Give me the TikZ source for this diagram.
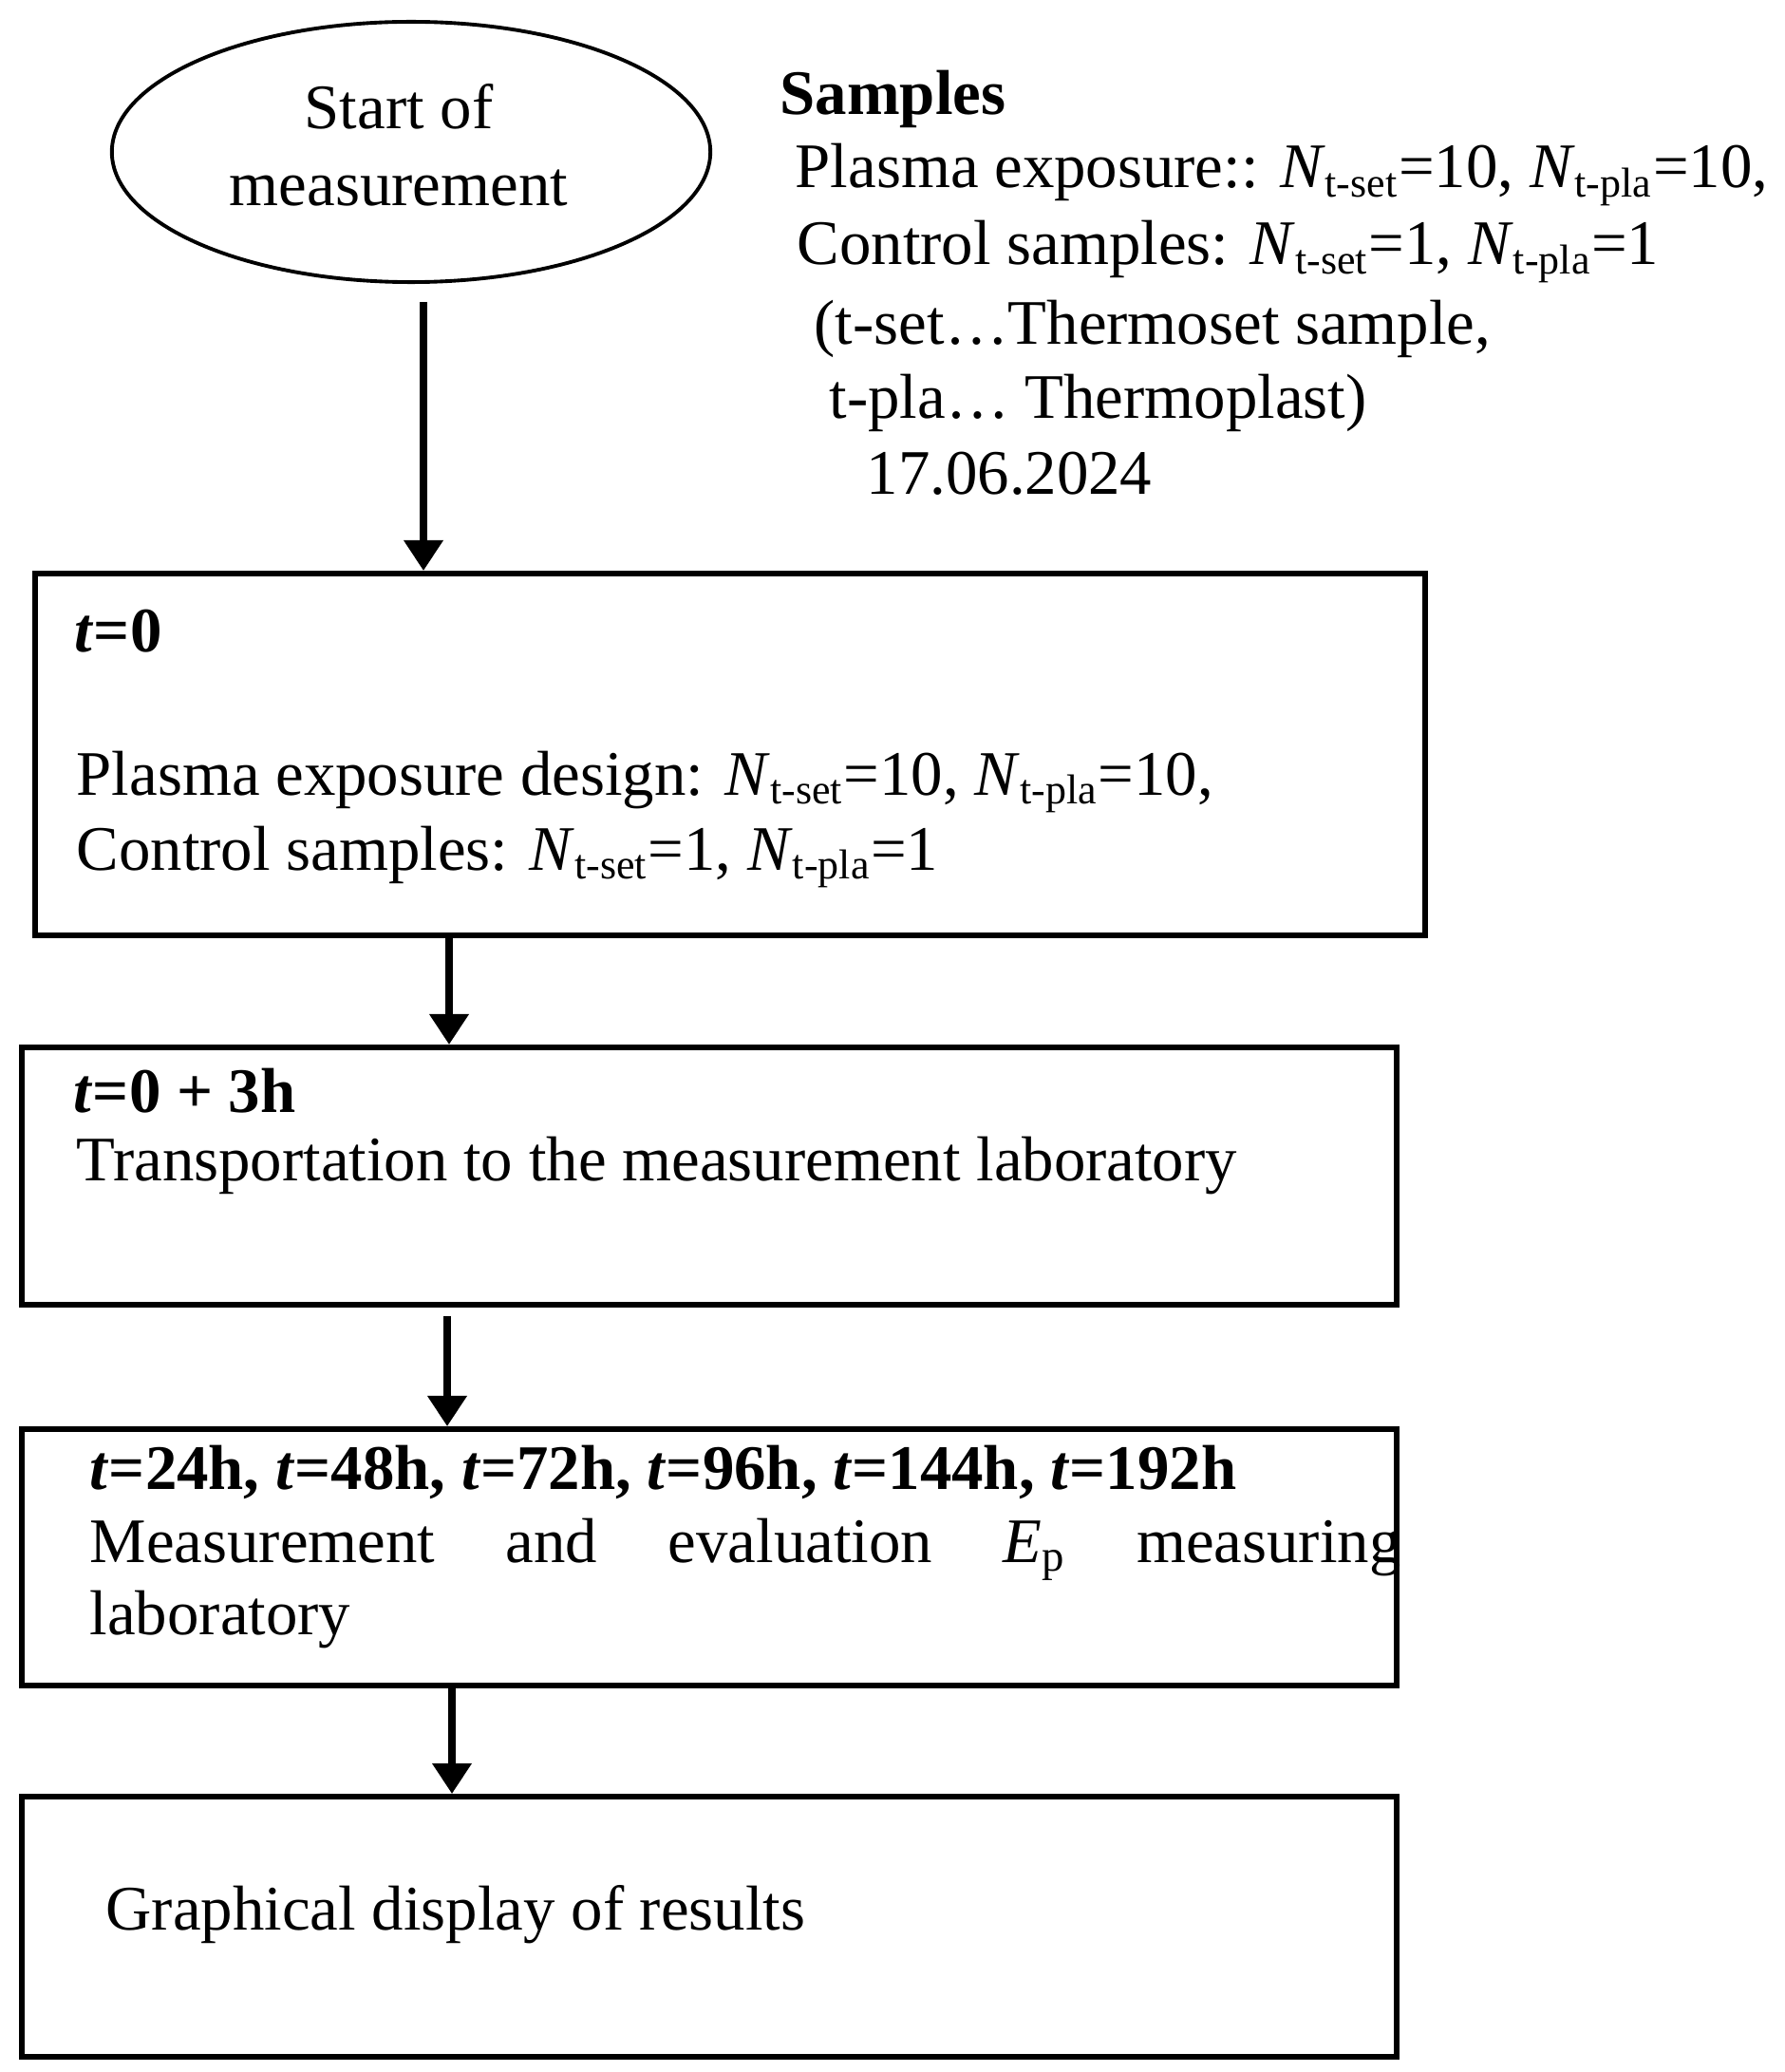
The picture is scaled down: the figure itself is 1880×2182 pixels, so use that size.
\documentclass[tikz,border=0pt]{standalone}
\usepackage{fontspec}
\setmainfont{Liberation Serif}
\usetikzlibrary{arrows.meta,shapes.geometric}
\newcommand{\Nsb}[1]{\textit{N}\textsubscript{\fontsize{12.5}{13}\selectfont #1}}
\begin{document}
\begin{tikzpicture}[x=0.01cm,y=-0.01cm,
  font=\fontsize{19}{23}\selectfont,
  box/.style={draw, line width=1.7pt, rectangle, inner sep=0pt, anchor=north west},
  txt/.style={anchor=base west, inner sep=0pt},
  arr/.style={line width=2pt, -{Triangle[length=0.32cm,width=0.40cm]}}]
\useasboundingbox (0,0) rectangle (1880,2182);

% start ellipse
\node[draw, ellipse, line width=1.1pt, minimum width=6.3cm, minimum height=2.74cm,
      inner sep=0pt] (ell) at (433,160) {};
\node[align=center, inner sep=0pt] (ellt) at (420,153) {Start of\\measurement};

% samples text
\node[txt] (s0) at (821,121) {\textbf{Samples}};
\node[txt] (s1) at (837,198) {Plasma exposure:: \Nsb{t-set}=10, \Nsb{t-pla}=10,};
\node[txt] (s2) at (839,279) {Control samples: \Nsb{t-set}=1, \Nsb{t-pla}=1};
\node[txt] (s3) at (857,363) {(t-set…Thermoset sample,};
\node[txt] (s4) at (873,440) {t-pla… Thermoplast)};
\node[txt] (s5) at (912,520) {17.06.2024};

% boxes
\node[box, minimum width=14.63cm, minimum height=3.81cm] (b1) at (34,601) {};
\node[box, minimum width=14.47cm, minimum height=2.71cm] (b2) at (20,1100) {};
\node[box, minimum width=14.47cm, minimum height=2.70cm] (b3) at (20,1502) {};
\node[box, minimum width=14.47cm, minimum height=2.74cm] (b4) at (20,1889) {};

% box texts
\node[txt] (t1a) at (78,686) {\textbf{\textit{t}=0}};
\node[txt] (t1b) at (80,837) {Plasma exposure design: \Nsb{t-set}=10, \Nsb{t-pla}=10,};
\node[txt] (t1c) at (80,916) {Control samples: \Nsb{t-set}=1, \Nsb{t-pla}=1};
\node[txt] (t2a) at (77,1171) {\textbf{\textit{t}=0 + 3h}};
\node[txt] (t2b) at (80,1243) {Transportation to the measurement laboratory};
\node[txt] (t3a) at (94,1568) {\textbf{\textit{t}=24h, \textit{t}=48h, \textit{t}=72h, \textit{t}=96h, \textit{t}=144h, \textit{t}=192h}};
\node[txt] (t3b) at (94,1645) {\makebox[13.8cm][s]{Measurement and evaluation \textit{E}\textsubscript{p} measuring}};
\node[txt] (t3c) at (94,1721) {laboratory};
\node[txt] (t4) at (111,2032) {Graphical display of results};

% arrows
\coordinate (a1) at (446,318);
\coordinate (a2) at (473,982);
\coordinate (a3) at (471,1386);
\coordinate (a4) at (476,1772);
\draw[arr] (a1) -- (a1 |- b1.north);
\draw[arr] (a2) -- (a2 |- b2.north);
\draw[arr] (a3) -- (a3 |- b3.north);
\draw[arr] (a4) -- (a4 |- b4.north);
\end{tikzpicture}
\end{document}
